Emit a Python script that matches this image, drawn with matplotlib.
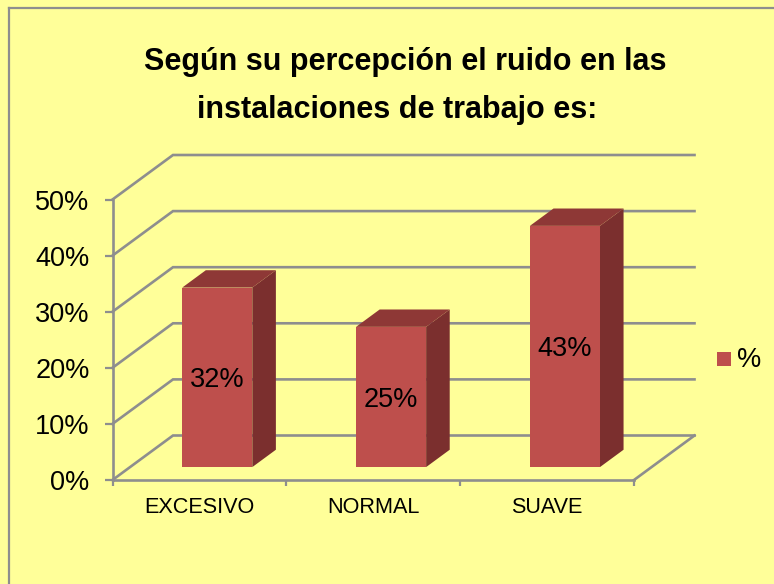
import matplotlib
matplotlib.use("Agg")
import matplotlib.pyplot as plt
from matplotlib.patches import Polygon, Rectangle

W, H = 774, 584
categories = ["EXCESIVO", "NORMAL", "SUAVE"]
values = [32, 25, 43]
value_labels = ["32%", "25%", "43%"]
y_ticks = [0, 10, 20, 30, 40, 50]
y_tick_labels = ["0%", "10%", "20%", "30%", "40%", "50%"]
title_lines = ["Según su percepción el ruido en las", "instalaciones de trabajo es:"]
legend_label = "%"

BG = "#FFFF99"
GRID = "#8E8E8E"
FRONT = "#BE4F4C"
TOP = "#8E3836"
SIDE = "#7B2F2E"
FONT = "Liberation Sans"

plt.rcParams["font.family"] = [FONT, "DejaVu Sans"]
fig = plt.figure(figsize=(W / 100, H / 100), dpi=100, facecolor=BG)

# frame of the chart area
frame = fig.add_axes([0, 0, 1, 1], zorder=0)
frame.set_xlim(0, W); frame.set_ylim(H, 0); frame.axis("off")
frame.plot([9, 9], [H + 5, 8], color=GRID, lw=1.6, clip_on=False)
frame.plot([9, W + 5], [8, 8], color=GRID, lw=1.6, clip_on=False)
frame.text(405, 62, title_lines[0], ha="center", va="center",
           fontsize=22, fontweight="bold", color="black")
frame.text(397.5, 110, title_lines[1], ha="center", va="center",
           fontsize=22, fontweight="bold", color="black")

# front plane of the 3-D plot
L, R, T, B = 112.5, 634, 199.5, 480
ax = fig.add_axes([L / W, 1 - B / H, (R - L) / W, (B - T) / H], zorder=1)
ax.patch.set_alpha(0)
ax.set_xlim(0, len(categories))
ax.set_ylim(0, 50)
DX = 60.5 / (R - L) * len(categories)     # depth vector, data units
DY = 44.5 / (B - T) * 50

for s in ("top", "right"):
    ax.spines[s].set_visible(False)
for s in ("left", "bottom"):
    ax.spines[s].set_color(GRID)
    ax.spines[s].set_linewidth(1.9)
ax.set_yticks(y_ticks, y_tick_labels, fontsize=19.5)
ax.set_xticks(range(len(categories) + 1), [""] * (len(categories) + 1))
ax.set_xticks([i + 0.5 for i in range(len(categories))], categories, minor=True, fontsize=15.6)
ax.tick_params(axis="y", length=5.5, width=1.6, color=GRID, pad=11)
ax.tick_params(axis="x", which="major", length=4, width=1.6, color=GRID)
ax.tick_params(axis="x", which="minor", length=0, pad=12)

# walls
for t in y_ticks:
    ax.plot([0, DX, len(categories) + DX], [t, t + DY, t + DY],
            color=GRID, lw=1.9, clip_on=False, zorder=1, solid_joinstyle="miter")
ax.plot([len(categories), len(categories) + DX], [0, DY], color=GRID, lw=1.9, clip_on=False, zorder=1)

# bars
WIDTH = 0.403
D0, D1 = 0.295, 0.685
for i, (v, lab) in enumerate(zip(values, value_labels)):
    x0 = i + 0.5 - WIDTH / 2 + D0 * DX
    x1 = x0 + WIDTH
    y0 = 0.29 * DY
    y1 = y0 + v
    ddx, ddy = (D1 - D0) * DX, (D1 - D0) * DY
    ax.add_patch(Polygon([(x1, y0), (x1 + ddx, y0 + ddy), (x1 + ddx, y1 + ddy), (x1, y1)],
                         fc=SIDE, ec="none", zorder=3, clip_on=False))
    ax.add_patch(Polygon([(x0, y1), (x1, y1), (x1 + ddx, y1 + ddy), (x0 + ddx, y1 + ddy)],
                         fc=TOP, ec="none", zorder=3, clip_on=False))
    ax.add_patch(Rectangle((x0, y0), WIDTH, v, fc=FRONT, ec="none", zorder=4, clip_on=False))
    ax.annotate(lab, ((x0 + x1) / 2, y0 + v / 2), xytext=(0, -2), textcoords="offset points",
                ha="center", va="center", fontsize=19.5, color="black", zorder=5)

# legend
frame.add_patch(Rectangle((717, 352), 14, 14, fc=FRONT, ec="none"))
frame.text(737, 360, legend_label, ha="left", va="center", fontsize=19.5, color="black")

fig.savefig("out.png", dpi=100, facecolor=BG)
